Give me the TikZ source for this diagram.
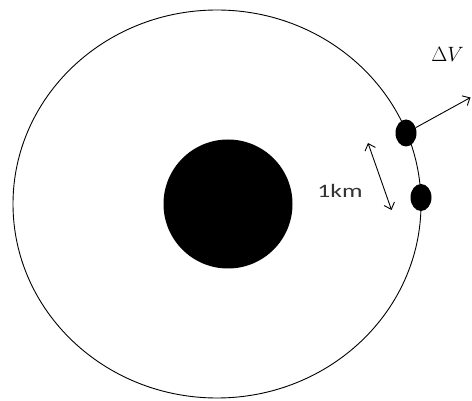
\documentclass[tikz,border=0pt]{standalone}
\usepackage{fontspec}
\newfontfamily\labelfont[FakeStretch=1.35]{Carlito}
\usetikzlibrary{shapes.geometric,arrows.meta}
\begin{document}
\begin{tikzpicture}[
  x=1pt, y=-1pt,
  orbit/.style={draw, line width=.9pt},
  planet/.style={circle, fill=black, inner sep=0pt, minimum size=129pt},
  sat/.style={ellipse, fill=black, inner sep=0pt,
              minimum width=21pt, minimum height=27pt},
  vec/.style={draw, line width=.9pt, -{Straight Barb[length=6pt,width=11pt]}},
  span/.style={draw, line width=.9pt,
               {Straight Barb[length=6pt,width=11pt]}-{Straight Barb[length=6pt,width=11pt]}},
  lbl/.style={font=\labelfont\fontsize{19}{22}\selectfont, text=black!80,
              inner sep=0pt}
]
\useasboundingbox (0,0) rectangle (472,401);

% orbit and central body
\draw[orbit] (217,204) ellipse [x radius=204, y radius=194];
\node[planet] (earth) at (228,204) {};

% the two satellites on the orbit
\node[sat] (lead) at (406,133) {};
\node[sat] (trail) at (421,197.5) {};

% burn of the leading satellite
\coordinate (dvtip) at (470.5,97.5);
\draw[vec] (lead) -- (dvtip);
\node[font=\fontsize{20}{24}\selectfont, inner sep=0pt] (dv) at (447.5,54) {$\Delta V$};

% separation
\coordinate (sepA) at (368,143);
\coordinate (sepB) at (391.5,210);
\draw[span] (sepA) -- (sepB);
\node[lbl, anchor=base] (sep) at (340,198) {1km};
\end{tikzpicture}
\end{document}
